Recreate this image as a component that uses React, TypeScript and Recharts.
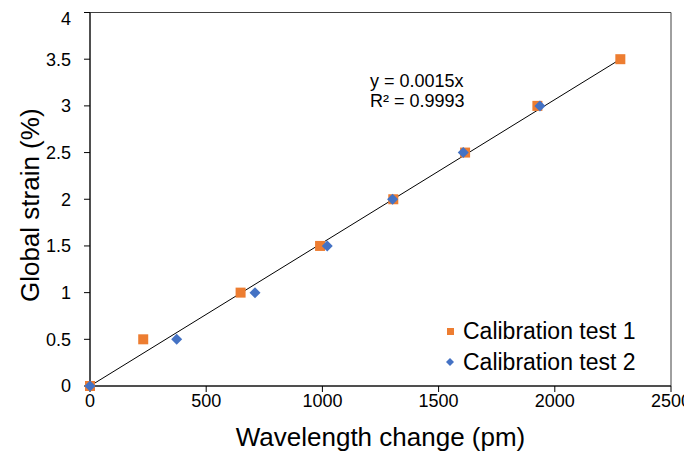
import {
  ScatterChart,
  Scatter,
  XAxis,
  YAxis,
  ReferenceLine,
  ReferenceArea,
  Label
} from "recharts";

// wavelength change (pm) vs global strain (%)
const test1Wavelength = [0, 229, 648, 990, 1305, 1614, 1925, 2282];
const test1Strain = [0, 0.5, 1, 1.5, 2, 2.5, 3, 3.5];
const test2Wavelength = [0, 373, 710, 1021, 1302, 1606, 1936];
const test2Strain = [0, 0.5, 1, 1.5, 2, 2.5, 3];

const xTicks = [0, 500, 1000, 1500, 2000, 2500];
const yTicks = [0, 0.5, 1, 1.5, 2, 2.5, 3, 3.5, 4];

// linear trendline through origin, drawn over the data range
const trendStart = { x: 0, y: 0 };
const trendEnd = { x: 2282, y: 3.5 };
const trendEquation = "y = 0.0015x";
const trendR2 = "R² = 0.9993";

const test1 = test1Wavelength.map((x, i) => ({ x, y: test1Strain[i] }));
const test2 = test2Wavelength.map((x, i) => ({ x, y: test2Strain[i] }));

const ORANGE = "#ED7D31";
const BLUE = "#4472C4";
const FONT = "'Liberation Sans', Arial, sans-serif";

const Square = (props: any) => {
  const { cx, cy } = props;
  return <rect x={cx - 5} y={cy - 5} width={10} height={10} fill={ORANGE} />;
};

const Diamond = (props: any) => {
  const { cx, cy } = props;
  const r = 5.5;
  return (
    <polygon
      points={`${cx},${cy - r} ${cx + r},${cy} ${cx},${cy + r} ${cx - r},${cy}`}
      fill={BLUE}
    />
  );
};

export default function App() {
  return (
    <div style={{ position: "relative", width: 684, height: 447, fontFamily: FONT }}>
      <ScatterChart
        width={684}
        height={447}
        margin={{ top: 4.5, right: 21, bottom: 0, left: 0 }}
      >
        <XAxis
          type="number"
          dataKey="x"
          domain={[0, 2500]}
          ticks={xTicks}
          height={69}
          tickSize={6}
          tickMargin={2}
          axisLine={{ stroke: "#000" }}
          tickLine={{ stroke: "#000" }}
          tick={{ fill: "#000", fontSize: 18, fontFamily: FONT }}
        >
          <Label
            content={(p: any) => {
              const vb = p.viewBox;
              return (
                <text
                  x={vb.x + vb.width / 2}
                  y={438}
                  textAnchor="middle"
                  fontSize={26}
                  fontFamily={FONT}
                  fill="#000"
                >
                  Wavelength change (pm)
                </text>
              );
            }}
          />
        </XAxis>
        <YAxis
          type="number"
          dataKey="y"
          domain={[0, 4]}
          ticks={yTicks}
          width={82}
          tickSize={6}
          tickMargin={13}
          axisLine={{ stroke: "#000" }}
          tickLine={{ stroke: "#000" }}
          tick={{ fill: "#000", fontSize: 18, fontFamily: FONT }}
        >
          <Label
            content={(p: any) => {
              const vb = p.viewBox;
              const cy = vb.y + vb.height / 2 + 6;
              return (
                <text
                  x={31}
                  y={cy}
                  transform={`rotate(-90 31 ${cy})`}
                  textAnchor="middle"
                  fontSize={26}
                  fontFamily={FONT}
                  fill="#000"
                >
                  Global strain (%)
                </text>
              );
            }}
          />
        </YAxis>
        <ReferenceArea
          x1={0}
          x2={2500}
          y1={0}
          y2={4}
          fill="none"
          fillOpacity={0}
          stroke="#404040"
          strokeWidth={1}
        />
        <ReferenceLine
          segment={[trendStart, trendEnd]}
          stroke="#000"
          strokeWidth={1}
        />
        <Scatter
          name="Calibration test 1"
          data={test1}
          shape={Square}
          isAnimationActive={false}
        />
        <Scatter
          name="Calibration test 2"
          data={test2}
          shape={Diamond}
          isAnimationActive={false}
        />
        <g fontFamily={FONT} fill="#000">
          <text x={362} y={78.5} fontSize={18}>
            {trendEquation}
          </text>
          <text x={362} y={98.5} fontSize={18}>
            {trendR2}
          </text>
          <rect x={439} y={320} width={7} height={7} fill={ORANGE} />
          <text x={455} y={331} fontSize={23}>
            Calibration test 1
          </text>
          <polygon points="442,350 446,354 442,358 438,354" fill={BLUE} />
          <text x={455} y={362} fontSize={23}>
            Calibration test 2
          </text>
        </g>
      </ScatterChart>
    </div>
  );
}
